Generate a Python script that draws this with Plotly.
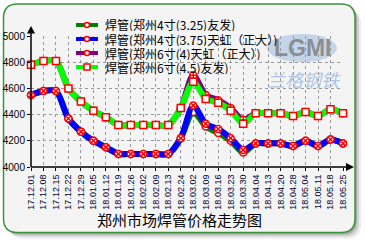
import plotly.graph_objects as go

dates = ["17.12.01", "17.12.08", "17.12.15", "17.12.22", "17.12.29", "18.01.05",
         "18.01.12", "18.01.19", "18.01.26", "18.02.02", "18.02.09", "18.02.13",
         "18.02.24", "18.03.02", "18.03.09", "18.03.16", "18.03.23", "18.03.30",
         "18.04.04", "18.04.13", "18.04.20", "18.04.28", "18.05.04", "18.05.11",
         "18.05.18", "18.05.25"]

s_4_325_youfa = [4550, 4580, 4580, 4370, 4270, 4200, 4150, 4100, 4100, 4100, 4100, 4100, 4220,
                 4420, 4310, 4260, 4200, 4110, 4180, 4180, 4180, 4160, 4200, 4160, 4210, 4180]
s_4_375_tianhong = [4550, 4580, 4580, 4370, 4270, 4200, 4150, 4100, 4100, 4100, 4100, 4100, 4220,
                    4470, 4330, 4290, 4220, 4130, 4180, 4180, 4180, 4160, 4200, 4160, 4210, 4180]
s_6_4_tianhong = [4780, 4810, 4810, 4600, 4500, 4430, 4380, 4320, 4320, 4320, 4320, 4320, 4450,
                  4700, 4550, 4510, 4450, 4360, 4410, 4410, 4410, 4390, 4420, 4390, 4440, 4410]
s_6_45_youfa = [4780, 4810, 4810, 4600, 4500, 4430, 4380, 4320, 4320, 4320, 4320, 4320, 4450,
                4650, 4520, 4490, 4430, 4330, 4410, 4410, 4410, 4390, 4420, 4390, 4440, 4410]

names = ["焊管(郑州4寸(3.25)友发)", "焊管(郑州4寸(3.75)天虹（正大）)",
         "焊管(郑州6寸(4)天虹（正大）)", "焊管(郑州6寸(4.5)友发)"]
series = [s_4_325_youfa, s_4_375_tianhong, s_6_4_tianhong, s_6_45_youfa]
colors = ["#007f00", "#0000ff", "#800080", "#00ff00"]
symbols = ["circle", "circle-x", "circle-cross", "square"]
title = "郑州市场焊管价格走势图"
y_ticks = [4000, 4200, 4400, 4600, 4800, 5000]

W_FIG, H_FIG = 365, 245
L, R, T, B = 31, 343, 36, 167
PW, PH = R - L, B - T


def px(x):
    return (x - L) / PW


def py(y):
    return (B - y) / PH


def rrect(x0, y0, x1, y1, r):
    pts = [
        f"M{px(x0 + r)},{py(y0)}",
        f"L{px(x1 - r)},{py(y0)}",
        f"Q{px(x1)},{py(y0)} {px(x1)},{py(y0 + r)}",
        f"L{px(x1)},{py(y1 - r)}",
        f"Q{px(x1)},{py(y1)} {px(x1 - r)},{py(y1)}",
        f"L{px(x0 + r)},{py(y1)}",
        f"Q{px(x0)},{py(y1)} {px(x0)},{py(y1 - r)}",
        f"L{px(x0)},{py(y0 + r)}",
        f"Q{px(x0)},{py(y0)} {px(x0 + r)},{py(y0)}",
        "Z",
    ]
    return " ".join(pts)


fig = go.Figure()
for name, vals, col, sym in zip(names, series, colors, symbols):
    fig.add_trace(go.Scatter(
        x=dates, y=vals, name=name, mode="lines+markers",
        line=dict(color=col, width=6, shape="spline", smoothing=0.8),
        marker=dict(symbol=sym, size=7, color="white",
                    line=dict(color="#ff0000", width=1.5)),
        cliponaxis=False, showlegend=False,
    ))

shapes = []
# shadow + rounded frame
for off, alpha in [(6, 0.07), (4, 0.12), (2, 0.2)]:
    shapes.append(dict(type="path", xref="paper", yref="paper", layer="below",
                       path=rrect(3.5 + off, 4 + off, 355 + off, 232.5 + off, 14),
                       fillcolor=f"rgba(0,0,0,{alpha})", line=dict(width=0)))
shapes.append(dict(type="path", xref="paper", yref="paper", layer="below",
                   path=rrect(3.5, 4, 355, 232.5, 14),
                   fillcolor="#f4f4f4", line=dict(color="#3a943a", width=1.5)))
# logo ellipse
shapes.append(dict(type="circle", xref="paper", yref="paper", layer="below",
                   x0=px(267), x1=px(337), y0=py(34), y1=py(62),
                   fillcolor="rgba(140,175,220,0.45)", line=dict(width=0)))
# axes with arrows
shapes.append(dict(type="line", xref="paper", yref="paper",
                   x0=px(31), x1=px(347), y0=py(167), y1=py(167),
                   line=dict(color="black", width=1.5)))
shapes.append(dict(type="path", xref="paper", yref="paper",
                   path=f"M{px(346)},{py(163)} L{px(354)},{py(167)} L{px(346)},{py(171)} Z",
                   fillcolor="black", line=dict(width=0)))
shapes.append(dict(type="line", xref="paper", yref="paper",
                   x0=px(31), x1=px(31), y0=py(167), y1=py(32),
                   line=dict(color="black", width=1.5)))
shapes.append(dict(type="path", xref="paper", yref="paper",
                   path=f"M{px(27)},{py(33.5)} L{px(31)},{py(26)} L{px(35)},{py(33.5)} Z",
                   fillcolor="black", line=dict(width=0)))

annotations = []
# logo text (drawn first, behind the legend texts)
annotations.append(dict(x=px(303), y=py(48), xref="paper", yref="paper",
                        xanchor="center", yanchor="middle",
                        text="<b>LGMI</b>", showarrow=False, height=20,
                        font=dict(family="Liberation Sans", size=23, color="rgba(130,130,130,0.85)")))
annotations.append(dict(x=px(304), y=py(79), xref="paper", yref="paper",
                        xanchor="center", yanchor="middle",
                        text="<i>兰格钢铁</i>", showarrow=False, height=20,
                        font=dict(family="Noto Sans CJK SC", size=18, color="rgba(150,180,220,0.75)")))
# legend
leg_y = [25, 39, 53, 67]
for name, col, sym, yy in zip(names, colors, symbols, leg_y):
    shapes.append(dict(type="line", xref="paper", yref="paper",
                       x0=px(76), x1=px(98), y0=py(yy), y1=py(yy),
                       line=dict(color=col, width=4)))
    cx = 87
    if sym == "square":
        shapes.append(dict(type="rect", xref="paper", yref="paper",
                           x0=px(cx - 3), x1=px(cx + 3), y0=py(yy - 3), y1=py(yy + 3),
                           fillcolor="white", line=dict(color="#ff0000", width=1.5)))
    else:
        shapes.append(dict(type="circle", xref="paper", yref="paper",
                           x0=px(cx - 2.5), x1=px(cx + 2.5), y0=py(yy - 2.5), y1=py(yy + 2.5),
                           fillcolor="white", line=dict(color="#ff0000", width=1.5)))
    annotations.append(dict(x=px(103), y=py(yy), xref="paper", yref="paper",
                            text=name, showarrow=False, xanchor="left", yanchor="middle",
                            height=13,
                            font=dict(family="Noto Sans CJK SC", size=12, color="black")))

# title
annotations.append(dict(x=px(179.5), y=py(219), xref="paper", yref="paper",
                        text=title, showarrow=False, xanchor="center", yanchor="middle",
                        font=dict(family="Noto Sans CJK SC", size=15, color="black")))

fig.update_layout(
    width=W_FIG, height=H_FIG,
    margin=dict(l=L, r=W_FIG - R, t=T, b=H_FIG - B, autoexpand=False),
    paper_bgcolor="white", plot_bgcolor="rgba(0,0,0,0)",
    showlegend=False, shapes=shapes, annotations=annotations,
)
fig.update_xaxes(
    type="category", range=[0, len(dates) - 1],
    showgrid=True, gridcolor="#9a9a9a", griddash="dot", gridwidth=1,
    showline=False, zeroline=False,
    ticks="outside", ticklen=3, tickcolor="black",
    tickangle=-90, tickfont=dict(family="Liberation Sans", size=9, color="#000030"),
    automargin=False,
)
fig.update_yaxes(
    range=[4000, 5000], tickvals=y_ticks,
    showgrid=True, gridcolor="#9a9a9a", griddash="dot", gridwidth=1,
    showline=False, zeroline=False,
    ticks="outside", ticklen=3, tickcolor="black",
    tickfont=dict(family="Liberation Sans", size=10, color="black"),
    automargin=False,
)

fig.write_html("out.html")
